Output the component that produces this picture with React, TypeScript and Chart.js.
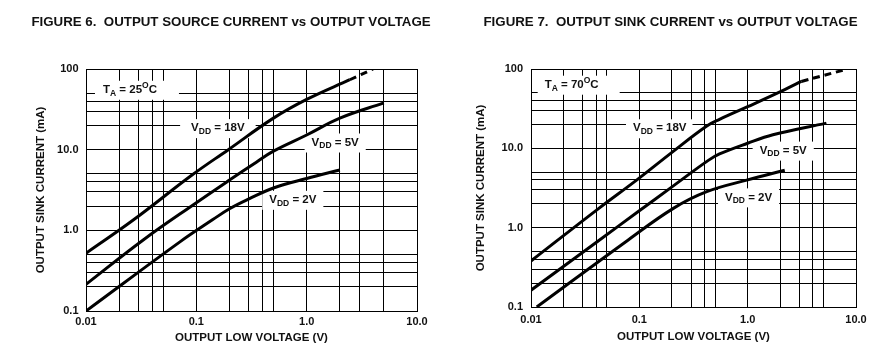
import React, { useEffect, useRef } from 'react';
import { Chart, registerables } from 'chart.js';

Chart.register(...registerables);

const FONT = '"Liberation Sans", Arial, Helvetica, sans-serif';
const INK = '#111';

// Grid lines (log decades with 2,3,4,5 subdivisions)
const X_GRID = [0.01, 0.02, 0.03, 0.04, 0.05, 0.1, 0.2, 0.3, 0.4, 0.5, 1, 2, 3, 4, 5, 10];
const Y_GRID = [0.1, 0.2, 0.3, 0.4, 0.5, 1, 2, 3, 4, 5, 10, 20, 30, 40, 50, 100];
const X_TICK_VALUES = [0.01, 0.1, 1, 10];
const X_TICK_LABELS = ['0.01', '0.1', '1.0', '10.0'];
const Y_TICK_VALUES = [0.1, 1, 10, 100];
const Y_TICK_LABELS = ['0.1', '1.0', '10.0', '100'];

const X_TITLE = 'OUTPUT LOW VOLTAGE (V)';
const Y_TITLE = 'OUTPUT SINK CURRENT (mA)';
const FIG6_TITLE = 'FIGURE 6.  OUTPUT SOURCE CURRENT vs OUTPUT VOLTAGE';
const FIG7_TITLE = 'FIGURE 7.  OUTPUT SINK CURRENT vs OUTPUT VOLTAGE';

// Figure 6 (T_A = 25 C)
const F6_VDD18_V = [0.01, 0.027, 0.092, 0.195, 0.5, 1.0, 2.46];
const F6_VDD18_I = [0.52, 1.35, 4.88, 10, 24.6, 42, 73.6];
const F6_VDD18_DASH_V = [2.46, 4.0];
const F6_VDD18_DASH_I = [73.6, 100];
const F6_VDD5_V = [0.01, 0.033, 0.1, 0.2, 0.35, 0.5, 1.0, 2.0, 5.0];
const F6_VDD5_I = [0.214, 0.76, 2.2, 4.2, 7.0, 9.6, 15.2, 24.6, 38];
const F6_VDD2_V = [0.01, 0.071, 0.14, 0.2, 0.3, 0.5, 1.0, 2.0];
const F6_VDD2_I = [0.1, 0.72, 1.35, 1.85, 2.45, 3.35, 4.4, 5.6];

// Figure 7 (T_A = 70 C)
const F7_VDD18_V = [0.01, 0.042, 0.095, 0.2, 0.416, 0.55, 1.0, 2.2, 3.13];
const F7_VDD18_I = [0.38, 1.74, 4.0, 8.9, 19.0, 23.2, 33.5, 55, 69.7];
const F7_VDD18_DASH_V = [3.13, 7.9];
const F7_VDD18_DASH_I = [69.7, 98];
const F7_VDD5_V = [0.01, 0.042, 0.095, 0.206, 0.43, 0.55, 1.0, 1.71, 5.33];
const F7_VDD5_I = [0.163, 0.685, 1.55, 3.36, 7.0, 8.5, 11.6, 14.8, 20.8];
const F7_VDD2_V = [0.0113, 0.079, 0.206, 0.419, 1.0, 2.2];
const F7_VDD2_I = [0.1, 0.7, 1.75, 2.84, 4.0, 5.3];

type Part = { t: string; sub?: boolean; sup?: boolean };
type Label = { parts: Part[]; x: number; y: number; padL: number; padR: number };

const vdd = (v: string): Part[] => [{ t: 'V' }, { t: 'DD', sub: true }, { t: ' = ' + v }];
const ta = (deg: string): Part[] => [{ t: 'T' }, { t: 'A', sub: true }, { t: ' = ' + deg }, { t: 'O', sup: true }, { t: 'C' }];

// label anchors (data coordinates: left edge of text, vertical middle)
const F6_LABELS: Label[] = [
  { parts: ta('25'), x: 0.01425, y: 55.3, padL: 8, padR: 22 },
  { parts: vdd('18V'), x: 0.0897, y: 18.5, padL: 11, padR: 11 },
  { parts: vdd('5V'), x: 1.109, y: 12.27, padL: 7, padR: 7 },
  { parts: vdd('2V'), x: 0.458, y: 2.39, padL: 7, padR: 7 },
];
const F7_LABELS: Label[] = [
  { parts: ta('70'), x: 0.01338, y: 63.4, padL: 7, padR: 21 },
  { parts: vdd('18V'), x: 0.0874, y: 17.9, padL: 7, padR: 6 },
  { parts: vdd('5V'), x: 1.29, y: 9.36, padL: 7, padR: 7 },
  { parts: vdd('2V'), x: 0.618, y: 2.41, padL: 7, padR: 7 },
];

const pts = (xs: number[], ys: number[]) => xs.map((x, i) => ({ x, y: ys[i] }));

const MAIN_SIZE = 11.5;
const SUB_SIZE = 8.5;

function partFont(p: Part) {
  return `bold ${p.sub || p.sup ? SUB_SIZE : MAIN_SIZE}px ${FONT}`;
}

function makeOverlay(title: string, titleX: number, titleY: number, labels: Label[]) {
  return {
    id: 'overlay',
    beforeDatasetsDraw(chart: any) {
      const ctx = chart.ctx as CanvasRenderingContext2D;
      const xs = chart.scales.x;
      const ys = chart.scales.y;
      ctx.save();
      for (const a of labels) {
        const px = xs.getPixelForValue(a.x);
        const py = ys.getPixelForValue(a.y);
        let w = 0;
        for (const p of a.parts) {
          ctx.font = partFont(p);
          w += ctx.measureText(p.t).width;
        }
        ctx.fillStyle = '#fff';
        ctx.fillRect(px - a.padL, py - 9, w + a.padL + a.padR, 19);
        let cx = px;
        ctx.fillStyle = INK;
        ctx.textBaseline = 'middle';
        ctx.textAlign = 'left';
        for (const p of a.parts) {
          ctx.font = partFont(p);
          const dy = p.sub ? 3.5 : p.sup ? -4 : 0;
          ctx.fillText(p.t, cx, py + dy);
          cx += ctx.measureText(p.t).width;
        }
      }
      ctx.restore();
    },
    afterDraw(chart: any) {
      const ctx = chart.ctx as CanvasRenderingContext2D;
      ctx.save();
      ctx.font = `bold 13.3px ${FONT}`;
      ctx.fillStyle = INK;
      ctx.textAlign = 'center';
      ctx.textBaseline = 'middle';
      ctx.fillText(title, titleX, titleY);
      ctx.restore();
    },
  };
}

type Spec = {
  title: string;
  titleX: number;
  titleY: number;
  labels: Label[];
  curves: { v: number[]; i: number[]; dash?: boolean }[];
  box: { left: number; right: number; top: number; bottom: number };
  yTitlePad: number;
  xTitlePad: number;
  yTickPad: number;
  xTickPad: number;
  hiddenX: number[];
};

const W = 447;
const H = 358;

function makeConfig(s: Spec): any {
  return {
    type: 'line',
    data: {
      datasets: s.curves.map((c) => ({
        data: pts(c.v, c.i),
        borderColor: '#000',
        borderWidth: 3,
        pointRadius: 0,
        fill: false,
        tension: 0.4,
        borderDash: c.dash ? [7, 5] : [],
        borderCapStyle: 'butt',
      })),
    },
    options: {
      responsive: false,
      animation: false,
      devicePixelRatio: 1,
      events: [],
      layout: { padding: { left: 0, top: s.box.top, right: W - s.box.right, bottom: 0 } },
      plugins: { legend: { display: false }, tooltip: { enabled: false }, title: { display: false } },
      scales: {
        x: {
          type: 'logarithmic',
          min: 0.01,
          max: 10,
          afterBuildTicks: (sc: any) => {
            sc.ticks = X_GRID.map((v) => ({ value: v }));
          },
          afterFit: (sc: any) => {
            sc.height = H - s.box.bottom;
          },
          ticks: {
            autoSkip: false,
            maxRotation: 0,
            padding: s.xTickPad,
            color: INK,
            font: { family: FONT, size: 11, weight: 'bold' },
            callback: (v: any) => {
              const k = X_TICK_VALUES.indexOf(Number(v));
              return k >= 0 ? X_TICK_LABELS[k] : '';
            },
          },
          grid: {
            color: (c: any) => (c.tick && s.hiddenX.includes(c.tick.value) ? 'rgba(0,0,0,0)' : '#000'),
            lineWidth: 1,
            drawTicks: false,
          },
          border: { display: true, color: '#000', width: 1 },
          title: {
            display: true,
            text: X_TITLE,
            color: INK,
            font: { family: FONT, size: 11.5, weight: 'bold' },
            padding: { top: 0, bottom: s.xTitlePad },
          },
        },
        y: {
          type: 'logarithmic',
          min: 0.1,
          max: 100,
          afterBuildTicks: (sc: any) => {
            sc.ticks = Y_GRID.map((v) => ({ value: v }));
          },
          afterFit: (sc: any) => {
            sc.width = s.box.left;
          },
          ticks: {
            autoSkip: false,
            padding: s.yTickPad,
            color: INK,
            font: { family: FONT, size: 11, weight: 'bold' },
            callback: (v: any) => {
              const k = Y_TICK_VALUES.indexOf(Number(v));
              return k >= 0 ? Y_TICK_LABELS[k] : '';
            },
          },
          grid: { color: '#000', lineWidth: 1, drawTicks: false },
          border: { display: true, color: '#000', width: 1 },
          title: {
            display: true,
            text: Y_TITLE,
            color: INK,
            font: { family: FONT, size: 11.5, weight: 'bold' },
            padding: { top: s.yTitlePad, bottom: 0 },
          },
        },
      },
    },
    plugins: [makeOverlay(s.title, s.titleX, s.titleY, s.labels)],
  };
}

const FIG6: Spec = {
  title: FIG6_TITLE,
  titleX: 231,
  titleY: 22,
  labels: F6_LABELS,
  curves: [
    { v: F6_VDD18_V, i: F6_VDD18_I },
    { v: F6_VDD18_DASH_V, i: F6_VDD18_DASH_I, dash: true },
    { v: F6_VDD5_V, i: F6_VDD5_I },
    { v: F6_VDD2_V, i: F6_VDD2_I },
  ],
  box: { left: 86, right: 417, top: 69, bottom: 311 },
  yTitlePad: 33.8,
  xTitlePad: 12.8,
  yTickPad: 7.5,
  xTickPad: 4.5,
  hiddenX: [4],
};

const FIG7: Spec = {
  title: FIG7_TITLE,
  titleX: 223.5,
  titleY: 22,
  labels: F7_LABELS,
  curves: [
    { v: F7_VDD18_V, i: F7_VDD18_I },
    { v: F7_VDD18_DASH_V, i: F7_VDD18_DASH_I, dash: true },
    { v: F7_VDD5_V, i: F7_VDD5_I },
    { v: F7_VDD2_V, i: F7_VDD2_I },
  ],
  box: { left: 84, right: 409, top: 69, bottom: 307 },
  yTitlePad: 26.8,
  xTitlePad: 14.1,
  yTickPad: 8,
  xTickPad: 6.5,
  hiddenX: [],
};

function Plot({ spec }: { spec: Spec }) {
  const ref = useRef<HTMLCanvasElement | null>(null);
  useEffect(() => {
    if (!ref.current) return;
    const chart = new Chart(ref.current, makeConfig(spec));
    return () => chart.destroy();
  }, [spec]);
  return <canvas ref={ref} width={W} height={H} style={{ display: 'block', width: W, height: H }} />;
}

export default function App() {
  return (
    <div style={{ position: 'absolute', left: 0, top: 0, width: 894, height: 358, display: 'flex', background: '#fff' }}>
      <Plot spec={FIG6} />
      <Plot spec={FIG7} />
    </div>
  );
}
